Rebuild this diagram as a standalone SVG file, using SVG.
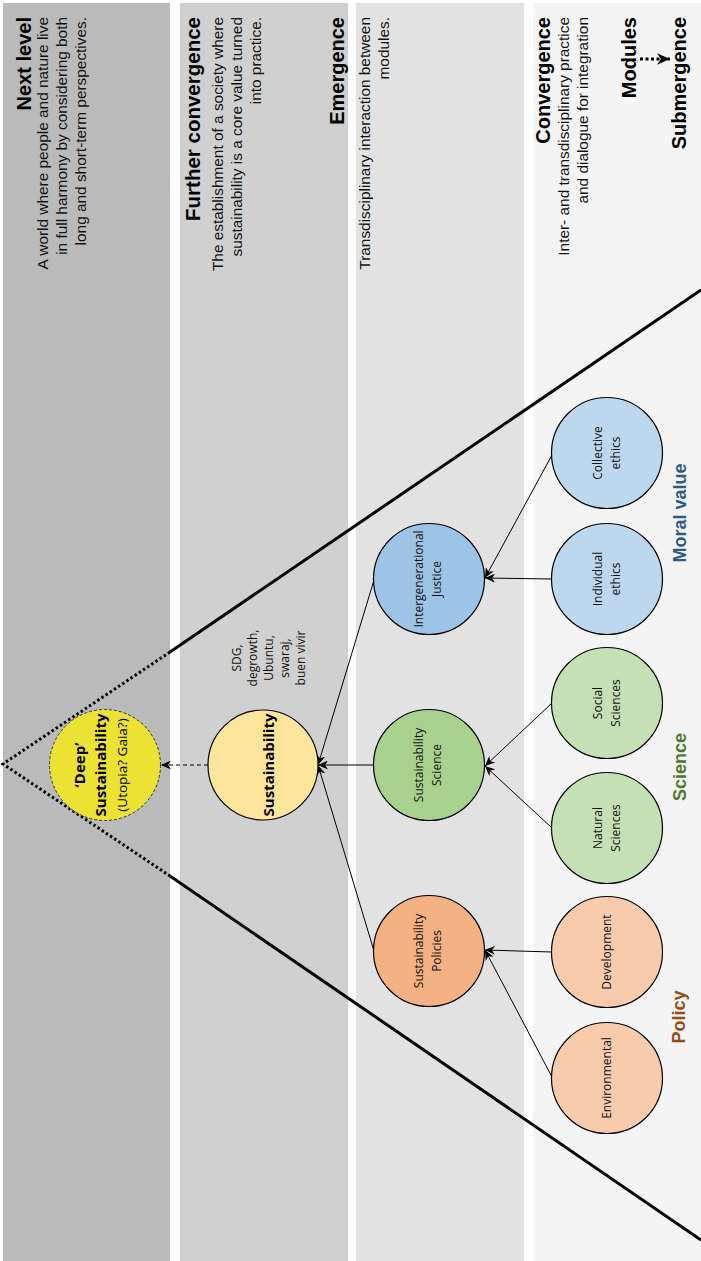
<svg xmlns="http://www.w3.org/2000/svg" width="701" height="1261" viewBox="0 0 701 1261">
<defs>
<style>
.hd{font-family:"Liberation Sans",Arial,sans-serif;font-size:20px;font-weight:bold;fill:#000}
.bd{font-family:"Liberation Sans",Arial,sans-serif;font-size:15.4px;fill:#111}
.cl{font-family:"Open Sans","Noto Sans",sans-serif;font-size:12px;fill:#111;text-anchor:middle}
.cat{font-family:"Liberation Sans",Arial,sans-serif;font-size:18px;font-weight:bold;text-anchor:middle}
.node{stroke:#000;stroke-width:1.2}
.edge{stroke:#000;stroke-width:1;fill:none}
</style>
<marker id="arr" viewBox="0 0 10 9" refX="10" refY="4.5" markerWidth="10" markerHeight="9" markerUnits="userSpaceOnUse" orient="auto">
<path d="M0,0 L10,4.5 L0,9 L3,4.5 Z" fill="#000"/>
</marker>
<marker id="arrB" viewBox="0 0 10 9" refX="10" refY="4.5" markerWidth="13" markerHeight="12" markerUnits="userSpaceOnUse" orient="auto">
<path d="M0,0 L10,4.5 L0,9 L3,4.5 Z" fill="#000"/>
</marker>
</defs>
<rect width="701" height="1261" fill="#fff"/>
<g id="bands">
<rect x="3" y="3" width="167" height="1258" fill="#bababa"/>
<rect x="180" y="3" width="168" height="1258" fill="#cfd0cf"/>
<rect x="356" y="3" width="168" height="1258" fill="#e2e2e2"/>
<rect x="533" y="3" width="168" height="1258" fill="#f4f4f4"/>
</g>
<g id="headers" transform="translate(0,17) rotate(-90)" text-anchor="end">
<text class="hd" x="0" y="31">Next level</text>
<text class="bd" x="0" y="48">A world where people and nature live</text>
<text class="bd" x="0" y="67">in full harmony by considering both</text>
<text class="bd" x="0" y="86">long and short-term perspectives.</text>
<text class="hd" x="0" y="200" style="font-size:20.5px">Further convergence</text>
<text class="bd" x="0" y="223">The establishment of a society where</text>
<text class="bd" x="0" y="242">sustainability is a core value turned</text>
<text class="bd" x="0" y="261">into practice.</text>
<text class="hd" x="0" y="344">Emergence</text>
<text class="bd" x="0" y="370">Transdisciplinary interaction between</text>
<text class="bd" x="0" y="389">modules.</text>
<text class="hd" x="0" y="550">Convergence</text>
<text class="bd" x="0" y="569">Inter- and transdisciplinary practice</text>
<text class="bd" x="0" y="588">and dialogue for integration</text>
<text class="hd" x="0" y="636">Modules</text>
<text class="hd" x="0" y="686">Submergence</text>
</g>
<g id="funnel" stroke="#000" fill="none">
<polyline points="170,652 3,764 170,876" stroke-width="3" stroke-dasharray="2.5 2.5"/>
<line x1="170" y1="652" x2="701" y2="290" stroke-width="3"/>
<line x1="170" y1="876" x2="701" y2="1240" stroke-width="3"/>
</g>
<g id="connectors">
<line x1="640" y1="59" x2="670" y2="59" style="stroke:#000;stroke-width:3;stroke-dasharray:3 2.5;fill:none" marker-end="url(#arrB)"/>
<line class="edge" x1="552" y1="455" x2="485" y2="578" marker-end="url(#arr)"/>
<line class="edge" x1="552" y1="579" x2="485" y2="578" marker-end="url(#arr)"/>
<line class="edge" x1="552" y1="703" x2="485" y2="766" marker-end="url(#arr)"/>
<line class="edge" x1="552" y1="828" x2="485" y2="766" marker-end="url(#arr)"/>
<line class="edge" x1="552" y1="952" x2="485" y2="950" marker-end="url(#arr)"/>
<line class="edge" x1="552" y1="1077" x2="485" y2="950" marker-end="url(#arr)"/>
<line class="edge" x1="374" y1="580" x2="318" y2="765" marker-end="url(#arr)"/>
<line class="edge" x1="374" y1="765" x2="318" y2="765" marker-end="url(#arr)"/>
<line class="edge" x1="374" y1="951" x2="318" y2="765" marker-end="url(#arr)"/>
<line class="edge" x1="208" y1="765" x2="161" y2="765" stroke-dasharray="4 3" marker-end="url(#arr)"/>
</g>
<g id="deep">
<circle cx="105" cy="765" r="55.5" fill="#ebe234" stroke="#333" stroke-width="1" stroke-dasharray="3 2"/>
<g transform="rotate(-90)" font-family="'Open Sans','Noto Sans',sans-serif" text-anchor="middle" fill="#000">
<text x="-765" y="85" font-size="15" font-weight="bold">‘Deep’</text>
<text x="-765" y="106" font-size="15" font-weight="bold">Sustainability</text>
<text x="-765" y="127" font-size="13.5">(Utopia? Gaia?)</text>
</g>
</g>
<g id="sustainability">
<circle class="node" cx="263" cy="765" r="55" fill="#fde59b"/>
<text transform="rotate(-90)" x="-765" y="274" font-family="'Open Sans','Noto Sans',sans-serif" font-size="15" font-weight="bold" text-anchor="middle">Sustainability</text>
</g>
<g id="sdg-note" transform="rotate(-90)">
<text class="cl" x="-658" y="241">SDG,</text>
<text class="cl" x="-658" y="257">degrowth,</text>
<text class="cl" x="-658" y="273">Ubuntu,</text>
<text class="cl" x="-658" y="289">swaraj,</text>
<text class="cl" x="-658" y="305">buen vivir</text>
</g>
<g id="intergenerational-justice">
<circle class="node" cx="429" cy="579" r="55.5" fill="#9dc3e6"/>
<g transform="rotate(-90)"><text class="cl" x="-579" y="423">Intergenerational</text><text class="cl" x="-579" y="441">Justice</text></g>
</g>
<g id="sustainability-science">
<circle class="node" cx="429" cy="765" r="55.5" fill="#a9d18e"/>
<g transform="rotate(-90)"><text class="cl" x="-765" y="423">Sustainability</text><text class="cl" x="-765" y="441">Science</text></g>
</g>
<g id="sustainability-policies">
<circle class="node" cx="429" cy="951" r="55.5" fill="#f4b183"/>
<g transform="rotate(-90)"><text class="cl" x="-951" y="423">Sustainability</text><text class="cl" x="-951" y="441">Policies</text></g>
</g>
<g id="collective-ethics">
<circle class="node" cx="607" cy="453" r="55.5" fill="#bdd7ee"/>
<g transform="rotate(-90)"><text class="cl" x="-453" y="602">Collective</text><text class="cl" x="-453" y="620">ethics</text></g>
</g>
<g id="individual-ethics">
<circle class="node" cx="607" cy="579" r="55.5" fill="#bdd7ee"/>
<g transform="rotate(-90)"><text class="cl" x="-579" y="602">Individual</text><text class="cl" x="-579" y="620">ethics</text></g>
</g>
<g id="social-sciences">
<circle class="node" cx="607" cy="703" r="55.5" fill="#c5e0b4"/>
<g transform="rotate(-90)"><text class="cl" x="-703" y="602">Social</text><text class="cl" x="-703" y="620">Sciences</text></g>
</g>
<g id="natural-sciences">
<circle class="node" cx="607" cy="828" r="55.5" fill="#c5e0b4"/>
<g transform="rotate(-90)"><text class="cl" x="-828" y="602">Natural</text><text class="cl" x="-828" y="620">Sciences</text></g>
</g>
<g id="development">
<circle class="node" cx="607" cy="952" r="55.5" fill="#f8cbad"/>
<text class="cl" transform="rotate(-90)" x="-952" y="611">Development</text>
</g>
<g id="environmental">
<circle class="node" cx="607" cy="1078" r="55.5" fill="#f8cbad"/>
<text class="cl" transform="rotate(-90)" x="-1078" y="611">Environmental</text>
</g>
<g id="categories" transform="rotate(-90)">
<text class="cat" x="-513" y="686" fill="#2e5a88">Moral value</text>
<text class="cat" x="-767" y="686" fill="#4b7a2c">Science</text>
<text class="cat" x="-1017" y="685" fill="#974a14">Policy</text>
</g>
</svg>
